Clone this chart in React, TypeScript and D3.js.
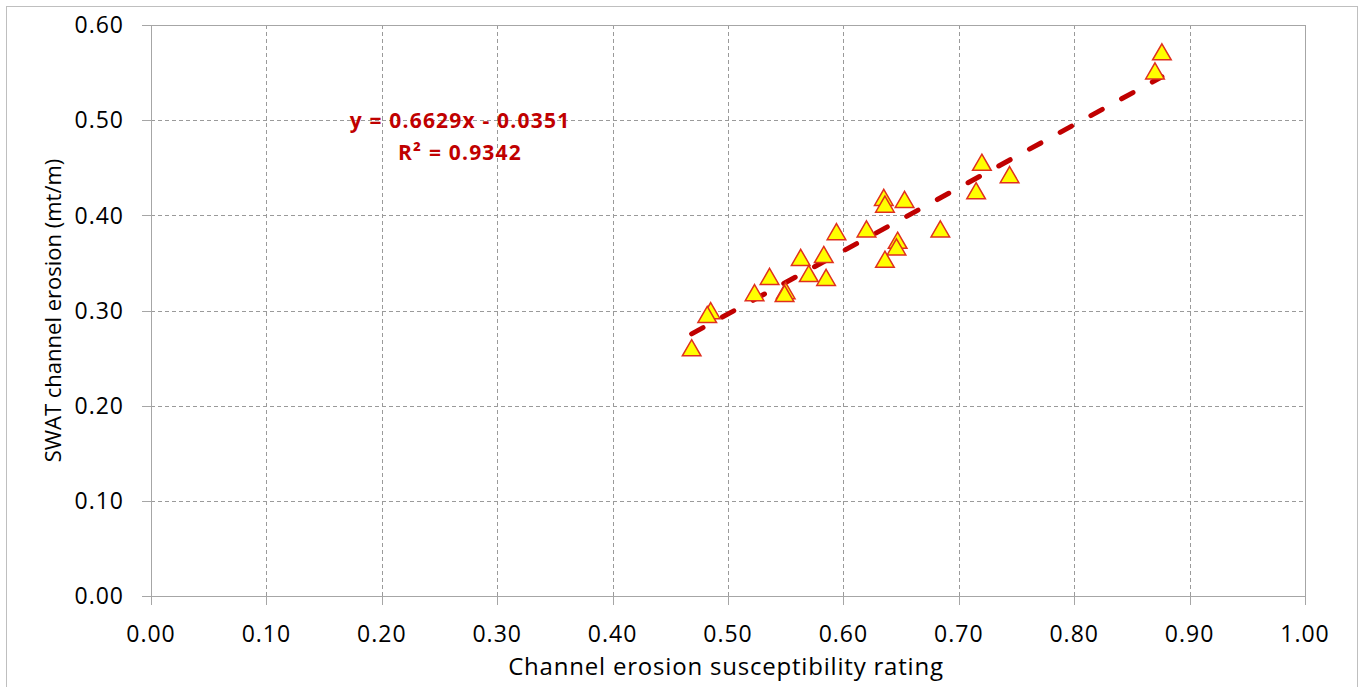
import React from "react";
import * as d3 from "d3";

const xValues = [0.876, 0.870, 0.720, 0.715, 0.744, 0.635, 0.636, 0.653, 0.684, 0.594, 0.620, 0.647, 0.646, 0.636, 0.563, 0.583, 0.570, 0.585, 0.536, 0.523, 0.550, 0.549, 0.485, 0.482, 0.4685];
const yValues = [0.569, 0.549, 0.453, 0.423, 0.440, 0.416, 0.409, 0.414, 0.383, 0.380, 0.383, 0.371, 0.364, 0.351, 0.353, 0.356, 0.336, 0.332, 0.333, 0.316, 0.318, 0.315, 0.297, 0.293, 0.258];
const xTicks = [0, 0.1, 0.2, 0.3, 0.4, 0.5, 0.6, 0.7, 0.8, 0.9, 1.0];
const yTicks = [0, 0.1, 0.2, 0.3, 0.4, 0.5, 0.6];
const slope = 0.6629;
const intercept = -0.0351;
const eqLine1 = "y = 0.6629x - 0.0351";
const rSquared = "0.9342";
const xTitle = "Channel erosion susceptibility rating";
const yTitle = "SWAT channel erosion (mt/m)";

const W = 1360, H = 687;
const L = 151, R = 1305, T = 25, B = 596;
const FONT = "'Open Sans', sans-serif";

export default function App() {
  const x = d3.scaleLinear().domain([0, 1]).range([L, R]);
  const y = d3.scaleLinear().domain([0, 0.6]).range([B, T]);
  const xmin = d3.min(xValues)!, xmax = d3.max(xValues)!;
  const trend = d3.line<number>().x(v => x(v)).y(v => y(slope * v + intercept));
  const tri = d3.symbol().type(d3.symbolTriangle).size(150)();
  const grid = "#9a9a9a";
  const axis = "#a6a6a6";
  return (
    <div style={{ position: "absolute", left: 0, top: 0 }}>
      <svg width={W} height={H} style={{ display: "block", background: "#fff" }}>
        <rect x={6.5} y={6.5} width={1351} height={690} fill="#fff" stroke="#bfbfbf" strokeWidth={1} />
        {yTicks.filter(t => t > 0 && t < 0.6).map(t => (
          <line key={"gy" + t} x1={L} x2={R} y1={Math.round(y(t)) + 0.5} y2={Math.round(y(t)) + 0.5} stroke={grid} strokeDasharray="4 3" />
        ))}
        {xTicks.filter(t => t > 0 && t < 1).map(t => (
          <line key={"gx" + t} x1={Math.round(x(t)) + 0.5} x2={Math.round(x(t)) + 0.5} y1={T} y2={B} stroke={grid} strokeDasharray="4 3" />
        ))}
        <line x1={L} x2={R} y1={T + 0.5} y2={T + 0.5} stroke={axis} />
        <line x1={R + 0.5} x2={R + 0.5} y1={T} y2={B} stroke={axis} />
        <line x1={L + 0.5} x2={L + 0.5} y1={T} y2={B} stroke={axis} />
        <line x1={L} x2={R} y1={B + 0.5} y2={B + 0.5} stroke={axis} />
        {yTicks.map(t => (
          <g key={"ty" + t}>
            <line x1={L - 9} x2={L} y1={Math.round(y(t)) + 0.5} y2={Math.round(y(t)) + 0.5} stroke={axis} />
            <text x={124} y={y(t)} dy="0.36em" textAnchor="end" fontFamily={FONT} fontSize={23} letterSpacing={1} fill="#000">{t.toFixed(2)}</text>
          </g>
        ))}
        {xTicks.map(t => (
          <g key={"tx" + t}>
            <line x1={Math.round(x(t)) + 0.5} x2={Math.round(x(t)) + 0.5} y1={B} y2={B + 9} stroke={axis} />
            <text x={x(t)} y={642} textAnchor="middle" fontFamily={FONT} fontSize={23} letterSpacing={1} fill="#000">{t.toFixed(2)}</text>
          </g>
        ))}
        <text x={726} y={675} textAnchor="middle" fontFamily={FONT} fontSize={24} letterSpacing={0.8} fill="#000">{xTitle}</text>
        <text transform={`translate(61,${(T + B) / 2}) rotate(-90)`} textAnchor="middle" fontFamily={FONT} fontSize={22} fill="#000">{yTitle}</text>
        <path d={trend([xmin, xmax])!} stroke="#C00000" strokeWidth={5} strokeLinecap="round" strokeDasharray="13 22" fill="none" />
        {xValues.map((v, i) => (
          <path key={"p" + i} d={tri!} transform={`translate(${x(v)},${y(yValues[i])})`} fill="#FFFF00" stroke="#E0301E" strokeWidth={1.5} />
        ))}
        <text x={460} y={128} textAnchor="middle" fontFamily={FONT} fontWeight="bold" fontSize={21} letterSpacing={1.2} fill="#C00000">{eqLine1}</text>
        <text x={460} y={160} textAnchor="middle" fontFamily={FONT} fontWeight="bold" fontSize={21} letterSpacing={1.2} fill="#C00000">R² = {rSquared}</text>
      </svg>
    </div>
  );
}
